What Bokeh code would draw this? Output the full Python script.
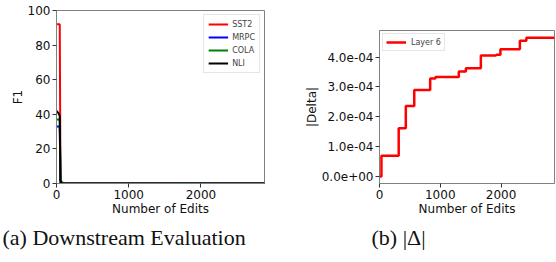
from bokeh.plotting import figure
from bokeh.layouts import row, column
from bokeh.models import FixedTicker, CustomJSTickFormatter, Legend, LegendItem, Range1d, Spacer
from bokeh.embed import file_html
from bokeh.resources import INLINE

# ---- data (a) downstream evaluation ----
edits_a = [0, 20, 35, 45, 55, 70, 100, 2880]
sst2 = [92, 92, 92, 92, 0, 0, 0, 0]
mrpc = [33, 33, 33, 32, 0, 0, 0, 0]
cola = [37, 37, 37, 36, 0, 1, 0, 0]
nli = [42, 41, 40, 39, 2, 0, 0, 0]
task_names = ["SST2", "MRPC", "COLA", "NLI"]
task_colors = ["#ff0000", "#0000ff", "#008000", "#000000"]
yticks_a = [0, 20, 40, 60, 80, 100]
xticks = [0, 1000, 2000]

# ---- data (b) |Delta| ----
edits_b = [0, 32, 316, 433, 572, 834, 920, 1305, 1422, 1668, 1920, 1990, 2310, 2417, 2880]
delta = [0.0, 0.70e-4, 1.62e-4, 2.36e-4, 2.90e-4, 3.28e-4, 3.33e-4, 3.52e-4, 3.63e-4,
         4.05e-4, 4.08e-4, 4.26e-4, 4.55e-4, 4.65e-4, 4.65e-4]
yticks_b = [0.0, 1e-4, 2e-4, 3e-4, 4e-4]

FONT = "DejaVu Sans"
FRAME = "#808080"


def style(p):
    p.outline_line_color = FRAME
    p.outline_line_width = 1
    p.xgrid.visible = False
    p.ygrid.visible = False
    p.background_fill_color = "white"
    p.border_fill_color = "white"
    for ax in (p.xaxis[0], p.yaxis[0]):
        ax.axis_line_color = FRAME
        ax.major_tick_line_color = "#333333"
        ax.major_tick_out = 4
        ax.major_tick_in = 0
        ax.minor_tick_line_color = None
        ax.major_label_text_font = FONT
        ax.major_label_text_font_size = "12px"
        ax.major_label_text_color = "#111111"
        ax.major_label_standoff = 2
        ax.axis_label_text_font = FONT
        ax.axis_label_text_font_size = "12px"
        ax.axis_label_text_font_style = "normal"
        ax.axis_label_text_color = "#111111"
        ax.axis_label_standoff = 0
    p.xaxis[0].ticker = FixedTicker(ticks=xticks)
    p.xaxis[0].axis_label = "Number of Edits"
    p.xaxis[0].major_label_standoff = 2
    p.xaxis[0].axis_label_standoff = 0
    p.title.text_font = "Liberation Serif"
    p.title.text_font_size = "22px"
    p.title.text_font_style = "normal"
    p.title.text_color = "#111111"
    p.title.align = "left"
    p.title.standoff = 8


# ---- figure (a) ----
p1 = figure(width=288, height=262, output_backend="svg", toolbar_location=None,
            x_range=Range1d(0, 2880), y_range=Range1d(0, 100),
            min_border_left=56, min_border_right=24, min_border_top=10, min_border_bottom=79,
            title="(a) Downstream Evaluation", title_location="below")
style(p1)
p1.yaxis[0].ticker = FixedTicker(ticks=yticks_a)
p1.yaxis[0].axis_label = "F1"
p1.title.offset = -54

items = []
for name, col, ys in zip(task_names, task_colors, [sst2, mrpc, cola, nli]):
    r = p1.line(edits_a, ys, line_color=col, line_width=2)
    items.append(LegendItem(label=name, renderers=[r]))
leg1 = Legend(items=items, location="top_right")
leg1.label_text_font = FONT
leg1.label_text_font_size = "8px"
leg1.glyph_width = 20
leg1.glyph_height = 10
leg1.label_height = 10
leg1.spacing = 3
leg1.padding = 4
leg1.margin = 4
leg1.border_line_color = "#cccccc"
leg1.label_standoff = 4
p1.add_layout(leg1)

# ---- figure (b) ----
p2 = figure(width=268, height=234, output_backend="svg", toolbar_location=None,
            x_range=Range1d(0, 2880), y_range=Range1d(-0.233e-4, 4.89e-4),
            min_border_left=91, min_border_right=2, min_border_top=2, min_border_bottom=79,
            title="(b) |Δ|", title_location="below")
style(p2)
p2.yaxis[0].ticker = FixedTicker(ticks=yticks_b)
p2.yaxis[0].axis_label = "|Delta|"
p2.yaxis[0].formatter = CustomJSTickFormatter(code="""
    const s = tick.toExponential(1);
    const parts = s.split('e');
    const sign = parts[1][0];
    let d = parts[1].slice(1);
    if (d.length < 2) d = '0' + d;
    return parts[0] + 'e' + sign + d;
""")
p2.title.offset = -8
r2 = p2.step(edits_b, delta, mode="after", line_color="#ff0000", line_width=2.5)
leg2 = Legend(items=[LegendItem(label="Layer 6", renderers=[r2])], location="top_left")
leg2.label_text_font = FONT
leg2.label_text_font_size = "8px"
leg2.glyph_width = 20
leg2.glyph_height = 10
leg2.label_height = 10
leg2.padding = 3
leg2.margin = 3
leg2.border_line_color = "#cccccc"
leg2.label_standoff = 5
p2.add_layout(leg2)

layout = row(p1, column(Spacer(width=268, height=28), p2))
open("out.html", "w").write(file_html(layout, INLINE))
